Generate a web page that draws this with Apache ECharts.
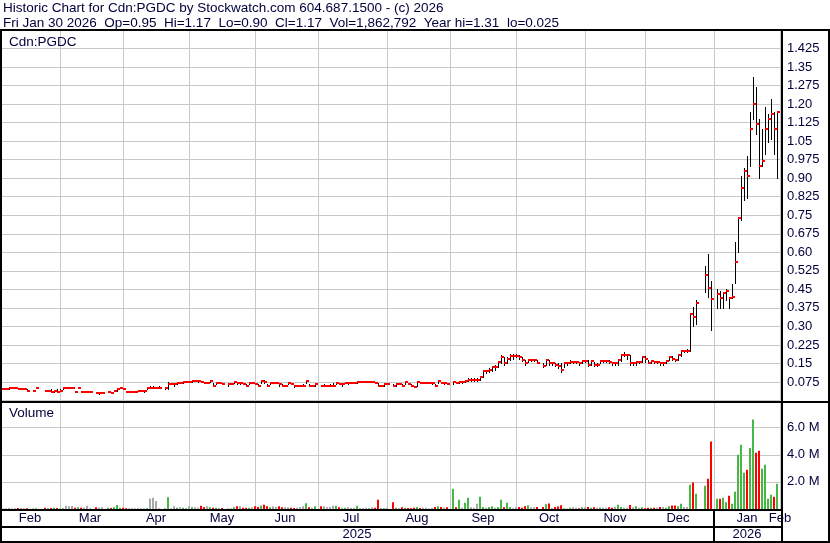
<!DOCTYPE html>
<html><head><meta charset="utf-8">
<script src="https://cdn.jsdelivr.net/npm/echarts@6/dist/echarts.min.js"></script>
<style>html,body{margin:0;padding:0;background:#fff}#c{width:830px;height:543px}</style>
</head><body><div id="c"></div>
<script>
// ---------- DATA ----------
const headerLine1 = 'Historic Chart for Cdn:PGDC by Stockwatch.com 604.687.1500 - (c) 2026';
const headerLine2 = 'Fri Jan 30 2026  Op=0.95  Hi=1.17  Lo=0.90  Cl=1.17  Vol=1,862,792  Year hi=1.31  lo=0.025';
const symbolLabel = 'Cdn:PGDC';
const volumeLabel = 'Volume';
const monthNames = ['Jan','Feb','Mar','Apr','May','Jun','Jul','Aug','Sep','Oct','Nov','Dec'];
const startDate = '2025-02-03';
const endDate = '2026-02-02';

// close, one value per weekday (null = holiday / no trade)
const cl = [
 0.045,0.045,0.045,0.05,0.05,0.05,0.045,0.045,0.045,0.04,null,0.04,0.05,null,null,0.04,0.04,0.035,0.04,0.035,
 0.04,0.05,0.05,0.05,0.05,0.035,0.05,0.035,0.035,0.035,0.035,null,0.03,0.03,0.03,null,0.035,0.03,0.04,0.045,0.05,
 0.045,0.035,0.035,0.035,0.035,0.04,0.04,0.04,0.05,0.05,0.05,0.05,0.05,null,0.05,0.065,0.065,0.065,0.07,0.07,0.075,0.075,
 0.075,0.08,0.08,0.08,0.075,0.07,0.07,0.08,0.06,0.07,0.07,0.065,null,0.065,0.065,0.075,0.07,0.07,0.065,0.06,0.07,0.07,
 0.065,0.06,0.08,0.075,0.06,0.07,0.07,0.07,0.065,0.06,0.06,0.07,0.065,0.06,0.06,0.06,0.06,0.08,0.06,0.06,0.065,
 null,0.06,0.06,0.06,0.06,0.06,0.07,0.065,0.065,0.07,0.07,0.07,0.07,0.075,0.075,0.075,0.075,0.075,0.075,0.07,0.06,0.06,0.065,
 0.065,null,0.06,0.065,0.065,0.06,0.075,0.065,0.06,0.055,0.075,0.07,0.07,0.07,0.07,0.07,0.06,0.08,0.07,0.07,0.065,
 null,0.075,0.07,0.075,0.075,0.08,0.085,0.085,0.085,0.085,0.095,0.12,0.12,0.125,0.135,0.135,0.155,0.175,0.15,0.17,0.18,0.18,
 0.18,0.175,0.165,0.15,0.165,0.165,0.165,0.15,null,0.14,0.165,0.15,0.15,0.145,0.14,0.125,0.15,0.15,0.155,0.155,0.155,0.15,0.16,
 0.16,0.145,0.16,0.145,0.145,0.16,0.16,0.16,0.155,0.15,0.15,0.165,0.185,0.185,0.185,0.15,0.15,0.155,0.155,0.175,
 0.17,0.15,0.16,0.155,0.155,0.15,0.15,0.16,0.175,0.17,0.165,0.185,0.2,0.2,0.2,0.35,0.34,0.395,null,null,0.51,0.455,0.41,
 null,0.43,0.415,0.435,0.445,0.415,0.42,0.56,0.74,0.86,0.93,0.91,1.10,1.20,1.12,0.95,0.97,1.10,1.14,1.16,1.10,1.17,
 null
];
const hi = [
 0.045,0.05,0.05,0.055,0.055,0.05,0.05,0.045,0.05,0.045,null,0.04,0.05,null,null,0.04,0.04,0.045,0.04,0.045,
 0.045,0.05,0.05,0.055,0.055,0.035,0.05,0.035,0.035,0.04,0.035,null,0.03,0.03,0.03,null,0.035,0.03,0.04,0.045,0.055,
 0.05,0.035,0.035,0.035,0.04,0.04,0.04,0.04,0.055,0.06,0.06,0.055,0.06,null,0.055,0.075,0.07,0.07,0.07,0.075,0.075,0.075,
 0.08,0.08,0.085,0.08,0.08,0.075,0.075,0.085,0.07,0.07,0.07,0.07,null,0.065,0.065,0.08,0.075,0.075,0.07,0.065,0.075,0.075,
 0.07,0.065,0.085,0.085,0.065,0.07,0.07,0.075,0.07,0.065,0.06,0.075,0.07,0.06,0.06,0.06,0.065,0.085,0.065,0.06,0.065,
 null,0.06,0.065,0.06,0.065,0.07,0.075,0.07,0.065,0.075,0.07,0.07,0.07,0.075,0.075,0.075,0.075,0.075,0.075,0.075,0.07,0.06,0.065,
 0.07,null,0.065,0.065,0.065,0.065,0.075,0.07,0.065,0.06,0.08,0.075,0.07,0.07,0.075,0.07,0.065,0.08,0.075,0.07,0.07,
 null,0.08,0.075,0.075,0.08,0.085,0.09,0.09,0.09,0.09,0.1,0.125,0.125,0.13,0.14,0.145,0.16,0.185,0.175,0.175,0.19,0.19,
 0.19,0.185,0.175,0.165,0.17,0.17,0.17,0.165,null,0.15,0.17,0.165,0.155,0.15,0.15,0.15,0.155,0.155,0.165,0.16,0.16,0.155,0.165,
 0.165,0.165,0.165,0.155,0.15,0.165,0.165,0.165,0.165,0.155,0.155,0.17,0.19,0.195,0.19,0.185,0.155,0.16,0.16,0.18,
 0.18,0.165,0.165,0.16,0.16,0.155,0.155,0.165,0.18,0.18,0.17,0.19,0.205,0.205,0.21,0.355,0.38,0.405,null,null,0.545,0.595,0.485,
 null,0.45,0.445,0.44,0.45,0.42,0.47,0.64,0.74,0.91,0.94,0.99,1.17,1.31,1.27,1.14,1.10,1.19,1.16,1.22,1.17,1.17,
 null
];
const lo = [
 0.045,0.045,0.045,0.045,0.05,0.05,0.045,0.045,0.045,0.04,null,0.04,0.05,null,null,0.04,0.04,0.035,0.035,0.035,
 0.04,0.045,0.05,0.05,0.05,0.035,0.05,0.035,0.035,0.035,0.035,null,0.03,0.025,0.03,null,0.035,0.03,0.04,0.04,0.05,
 0.045,0.035,0.035,0.035,0.035,0.04,0.04,0.035,0.045,0.05,0.05,0.05,0.05,null,0.045,0.045,0.065,0.06,0.065,0.07,0.07,0.075,
 0.075,0.075,0.08,0.075,0.075,0.07,0.07,0.075,0.06,0.065,0.07,0.065,null,0.06,0.065,0.07,0.065,0.065,0.065,0.06,0.065,0.07,
 0.065,0.06,0.07,0.07,0.06,0.065,0.07,0.07,0.06,0.06,0.06,0.065,0.065,0.055,0.06,0.06,0.06,0.07,0.06,0.06,0.06,
 null,0.06,0.06,0.06,0.06,0.06,0.065,0.065,0.06,0.07,0.065,0.07,0.07,0.07,0.075,0.075,0.075,0.075,0.075,0.07,0.06,0.06,0.06,
 0.065,null,0.06,0.06,0.065,0.06,0.065,0.065,0.06,0.055,0.06,0.07,0.07,0.07,0.07,0.065,0.06,0.07,0.07,0.065,0.065,
 null,0.065,0.07,0.07,0.07,0.075,0.08,0.08,0.08,0.08,0.085,0.095,0.11,0.115,0.12,0.125,0.135,0.15,0.145,0.15,0.165,0.17,
 0.175,0.17,0.16,0.145,0.155,0.16,0.16,0.15,null,0.135,0.145,0.145,0.145,0.14,0.13,0.115,0.135,0.145,0.15,0.15,0.15,0.145,0.15,
 0.155,0.14,0.145,0.14,0.14,0.15,0.155,0.155,0.15,0.145,0.145,0.145,0.16,0.18,0.17,0.145,0.145,0.145,0.15,0.155,
 0.155,0.15,0.15,0.15,0.15,0.145,0.145,0.15,0.165,0.165,0.16,0.165,0.18,0.195,0.195,0.2,0.3,0.31,null,null,0.44,0.42,0.285,
 null,0.375,0.375,0.375,0.405,0.375,0.415,0.475,0.60,0.73,0.81,0.82,0.95,1.14,1.08,0.90,0.95,1.00,1.045,1.06,1.00,0.90,
 null
];
// volume in millions of shares
const volM = [
 0.05,0.04,0.05,0.06,0.04,0.05,0.07,0.08,0.06,0.05,null,0.05,0.06,null,null,0.09,0.07,0.08,0.1,0.07,
 0.03,0.05,0.24,0.2,0.22,0.1,0.12,0.1,0.1,0.24,0.05,null,0.12,0.1,0.12,null,0.1,0.08,0.12,0.3,0.1,
 0.1,0.05,0.05,0.05,0.05,0.06,0.05,0.06,0.07,0.78,0.83,0.59,0.06,null,0.08,0.86,0.05,0.2,0.1,0.12,0.1,0.08,
 0.2,0.12,0.12,0.1,0.24,0.12,0.2,0.12,0.1,0.1,0.08,0.08,null,0.05,0.05,0.12,0.2,0.2,0.1,0.1,0.1,0.12,
 0.2,0.15,0.24,0.32,0.2,0.12,0.2,0.15,0.2,0.12,0.12,0.1,0.1,0.08,0.1,0.15,0.2,0.42,0.12,0.1,0.2,
 null,0.2,0.2,0.12,0.15,0.24,0.24,0.12,0.1,0.1,0.12,0.1,0.1,0.24,0.08,0.08,0.1,0.08,0.12,0.1,0.69,0.08,0.05,
 0.1,null,0.49,0.1,0.05,0.12,0.1,0.08,0.05,0.1,0.15,0.08,0.1,0.1,0.05,0.1,0.15,0.2,0.15,0.1,0.12,
 null,1.5,0.12,0.69,0.1,0.47,0.83,0.12,0.1,0.39,0.91,0.15,0.1,0.15,0.2,0.1,0.12,0.69,0.12,0.47,0.15,0.06,
 0.12,0.15,0.1,0.2,0.28,0.12,0.12,0.15,null,0.15,0.35,0.4,0.08,0.15,0.18,0.28,0.05,0.04,0.1,0.12,0.1,0.05,0.12,
 0.12,0.15,0.1,0.12,0.1,0.1,0.1,0.1,0.12,0.1,0.15,0.32,0.15,0.1,0.1,0.3,0.12,0.2,0.1,0.12,
 0.05,0.1,0.1,0.1,0.1,0.15,0.15,0.1,0.2,0.25,0.25,0.2,0.39,0.15,0.15,1.79,1.96,1.13,null,null,1.72,2.24,4.99,
 null,0.76,0.76,0.83,0.49,0.98,0.39,1.28,4.01,4.75,2.68,2.90,4.5,6.6,4.16,4.3,2.98,3.27,0.76,1.06,0.91,1.87,
 null
];

// ---------- AXIS CATEGORIES (weekdays) ----------
const dates = [];
(function () {
  let t = Date.parse(startDate + 'T00:00:00Z');
  const end = Date.parse(endDate + 'T00:00:00Z');
  while (t <= end) {
    const d = new Date(t); const wd = d.getUTCDay();
    if (wd > 0 && wd < 6) dates.push(d.toISOString().slice(0, 10));
    t += 86400000;
  }
})();

// month / year label positions derived from the dates
const monthRanges = [], yearRanges = [];
dates.forEach((d, i) => {
  const ym = d.slice(0, 7), y = d.slice(0, 4);
  const m = monthRanges[monthRanges.length - 1];
  if (!m || m.key !== ym) monthRanges.push({ key: ym, first: i, last: i, name: monthNames[+d.slice(5, 7) - 1] });
  else m.last = i;
  const yr = yearRanges[yearRanges.length - 1];
  if (!yr || yr.key !== y) yearRanges.push({ key: y, first: i, last: i });
  else yr.last = i;
});
const gridIdx = new Set(monthRanges.slice(1).map(m => m.first));
const monthLabelAt = new Map(monthRanges.map(m => [Math.round((m.first + m.last) / 2), m.name]));
const yearLabelAt = new Map(yearRanges.map(y => [Math.round((y.first + y.last) / 2), y.key]));
const yearBreak = yearRanges[1].first;

// ---------- SERIES DATA ----------
const priceData = [];
cl.forEach((c, i) => { if (c != null) priceData.push([i, hi[i], lo[i], c]); });
const UP = '#46b846', DOWN = '#ff0000', FLAT = '#a8a8a8';
let prev = null;
const volData = volM.map((v, i) => {
  const c = cl[i];
  if (v == null || c == null) return '-';
  let col = FLAT;
  if (prev != null) col = c > prev ? UP : (c < prev ? DOWN : FLAT);
  prev = c;
  return { value: v * 1e6, itemStyle: { color: col } };
});

// ---------- CHART ----------
const FONT = '"Liberation Sans", Arial, sans-serif';
const TXT = '#00003c';
const GRIDC = '#c8c8c8';
const chart = echarts.init(document.getElementById('c'), null, { renderer: 'canvas' });

function renderPrice(params, api) {
  const i = api.value(0);
  const pt = api.coord([i, api.value(1)]);
  const pb = api.coord([i, api.value(2)]);
  const pc = api.coord([i, api.value(3)]);
  const x = Math.round(pt[0]);
  const y1 = Math.round(pt[1]), y2 = Math.round(pb[1]);
  return {
    type: 'group',
    children: [
      { type: 'rect', shape: { x: x, y: y1, width: 1, height: Math.max(1, y2 - y1 + 1) }, style: { fill: '#000' } },
      { type: 'rect', shape: { x: x, y: Math.round(pc[1]) - 1, width: 3, height: 2 }, style: { fill: '#ff0000' } }
    ]
  };
}

const priceFmt = v => { let s = v.toFixed(3); if (s.endsWith('0')) s = s.slice(0, -1); return s; };
const splitX = { show: true, interval: (i) => gridIdx.has(i), lineStyle: { color: GRIDC, width: 1 } };
const labelStyle = { color: TXT, fontSize: 13, fontFamily: FONT };

const option = {
  animation: false,
  backgroundColor: '#ffffff',
  grid: [
    { left: 0, top: 30, width: 780, height: 370.5 },
    { left: 0, top: 402, width: 780, height: 107 }
  ],
  xAxis: [
    { type: 'category', gridIndex: 0, data: dates, boundaryGap: false,
      axisLine: { show: false }, axisTick: { show: false }, axisLabel: { show: false }, splitLine: splitX },
    { type: 'category', gridIndex: 1, data: dates, boundaryGap: false,
      axisLine: { show: false }, axisTick: { show: false }, splitLine: splitX,
      axisLabel: Object.assign({ interval: (i) => monthLabelAt.has(i), formatter: (v, i) => monthLabelAt.get(i) || '', margin: 3 }, labelStyle) },
    { type: 'category', gridIndex: 1, data: dates, boundaryGap: false, offset: 16, position: 'bottom',
      axisLine: { show: false }, axisTick: { show: false }, splitLine: { show: false },
      axisLabel: Object.assign({ interval: (i) => yearLabelAt.has(i), formatter: (v, i) => yearLabelAt.get(i) || '', margin: 3 }, labelStyle) }
  ],
  yAxis: [
    { type: 'value', gridIndex: 0, position: 'right', min: 0, max: 1.5, interval: 0.075,
      axisLine: { show: false }, axisTick: { show: false },
      splitLine: { show: true, lineStyle: { color: GRIDC, width: 1 } },
      axisLabel: Object.assign({ margin: 7, showMinLabel: false, showMaxLabel: false, formatter: priceFmt }, labelStyle) },
    { type: 'value', gridIndex: 1, position: 'right', min: 0, max: 7.9e6, interval: 2e6,
      axisLine: { show: false }, axisTick: { show: false },
      splitLine: { show: true, lineStyle: { color: GRIDC, width: 1 } },
      axisLabel: Object.assign({ margin: 7, showMinLabel: false, showMaxLabel: false, formatter: v => (v / 1e6).toFixed(1) + ' M' }, labelStyle) }
  ],
  series: [
    { type: 'custom', xAxisIndex: 0, yAxisIndex: 0, data: priceData, renderItem: renderPrice,
      encode: { x: 0, y: [1, 2, 3] }, z: 5 },
    { type: 'bar', xAxisIndex: 1, yAxisIndex: 1, data: volData, barWidth: 2, z: 5 }
  ]
};
chart.setOption(option);

// frame & text decorations
const xb = chart.convertToPixel({ xAxisIndex: 1 }, dates[yearBreak]);
const blk = { fill: '#000' };
const R = (x, y, w, h) => ({ type: 'rect', silent: true, z: 100, shape: { x, y, width: w, height: h }, style: blk });
const T = (x, y, text) => ({ type: 'text', silent: true, z: 100, x, y, style: { text, font: '13.5px ' + FONT, fill: TXT } });
chart.setOption({
  graphic: [
    R(0, 29, 830, 2), R(0, 29, 2, 514), R(828, 29, 2, 514), R(0, 401, 830, 2),
    R(781, 29, 2, 513), R(0, 509, 783, 2), R(0, 526, 783, 2), R(0, 541, 830, 2),
    R(Math.round(xb) - 1, 509, 2, 33),
    T(3, 1, headerLine1), T(3, 16, headerLine2),
    T(9, 35, symbolLabel), T(9, 406, volumeLabel)
  ]
});
</script></body></html>
